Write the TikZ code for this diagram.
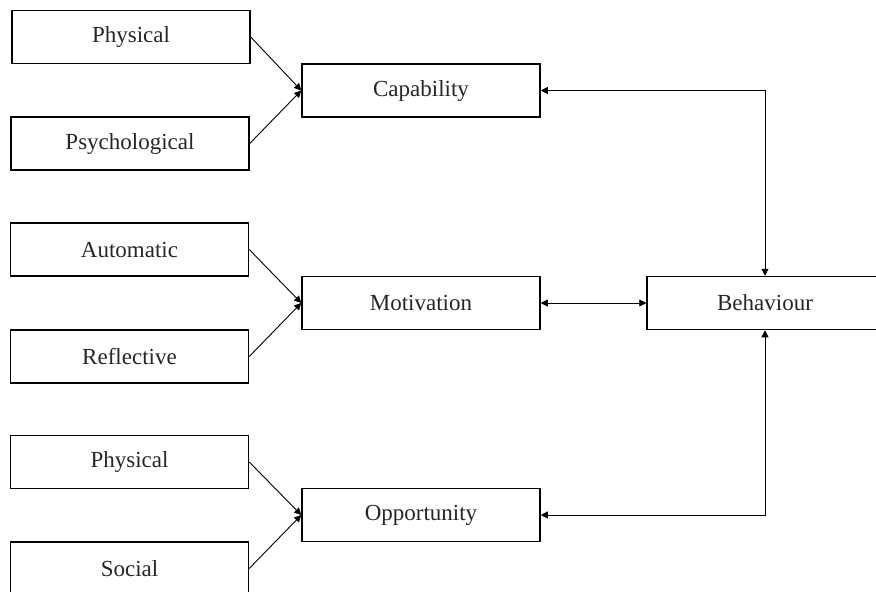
\documentclass[tikz,border=0pt]{standalone}
\usepackage{fontspec}
\setmainfont{Liberation Serif}
\usetikzlibrary{arrows.meta}
\begin{document}
\begin{tikzpicture}[x=1pt,y=-1pt,
  box/.style={draw=black,line width=1.5pt,rectangle,minimum width=238pt,minimum height=53pt,inner sep=0pt,
    font=\fontsize{23}{27}\selectfont,text=black!85},
  conn/.style={draw=black,line width=0.9pt},
  tip/.style={-{Triangle[length=7pt,width=7pt]}},
  tips/.style={{Triangle[length=7pt,width=7pt]}-{Triangle[length=7pt,width=7pt]}}]
\useasboundingbox (0,0) rectangle (876,592);
\clip (0,0) rectangle (876,592);
\node[box] (phys1) at (131,37) {Physical};
\node[box] (psych) at (130,143.5) {Psychological};
\node[box] (auto) at (129.5,249.5) {Automatic};
\node[box] (refl) at (129.5,356.5) {Reflective};
\node[box] (phys2) at (129.5,462) {Physical};
\node[box] (soc) at (129.5,568.5) {Social};
\node[box] (cap) at (421,90.5) {Capability};
\node[box] (mot) at (421,303) {Motivation};
\node[box] (opp) at (421,515) {Opportunity};
\node[box,minimum width=236pt] (beh) at (765,303) {Behaviour};
\draw[conn,tip] (phys1.east) -- (cap.west);
\draw[conn,tip] (psych.east) -- (cap.west);
\draw[conn,tip] (auto.east) -- (mot.west);
\draw[conn,tip] (refl.east) -- (mot.west);
\draw[conn,tip] (phys2.east) -- (opp.west);
\draw[conn,tip] (soc.east) -- (opp.west);
\draw[conn,tips] (cap.east) -| (beh.north);
\draw[conn,tips] (mot.east) -- (beh.west);
\draw[conn,tips] (opp.east) -| (beh.south);
\end{tikzpicture}
\end{document}
